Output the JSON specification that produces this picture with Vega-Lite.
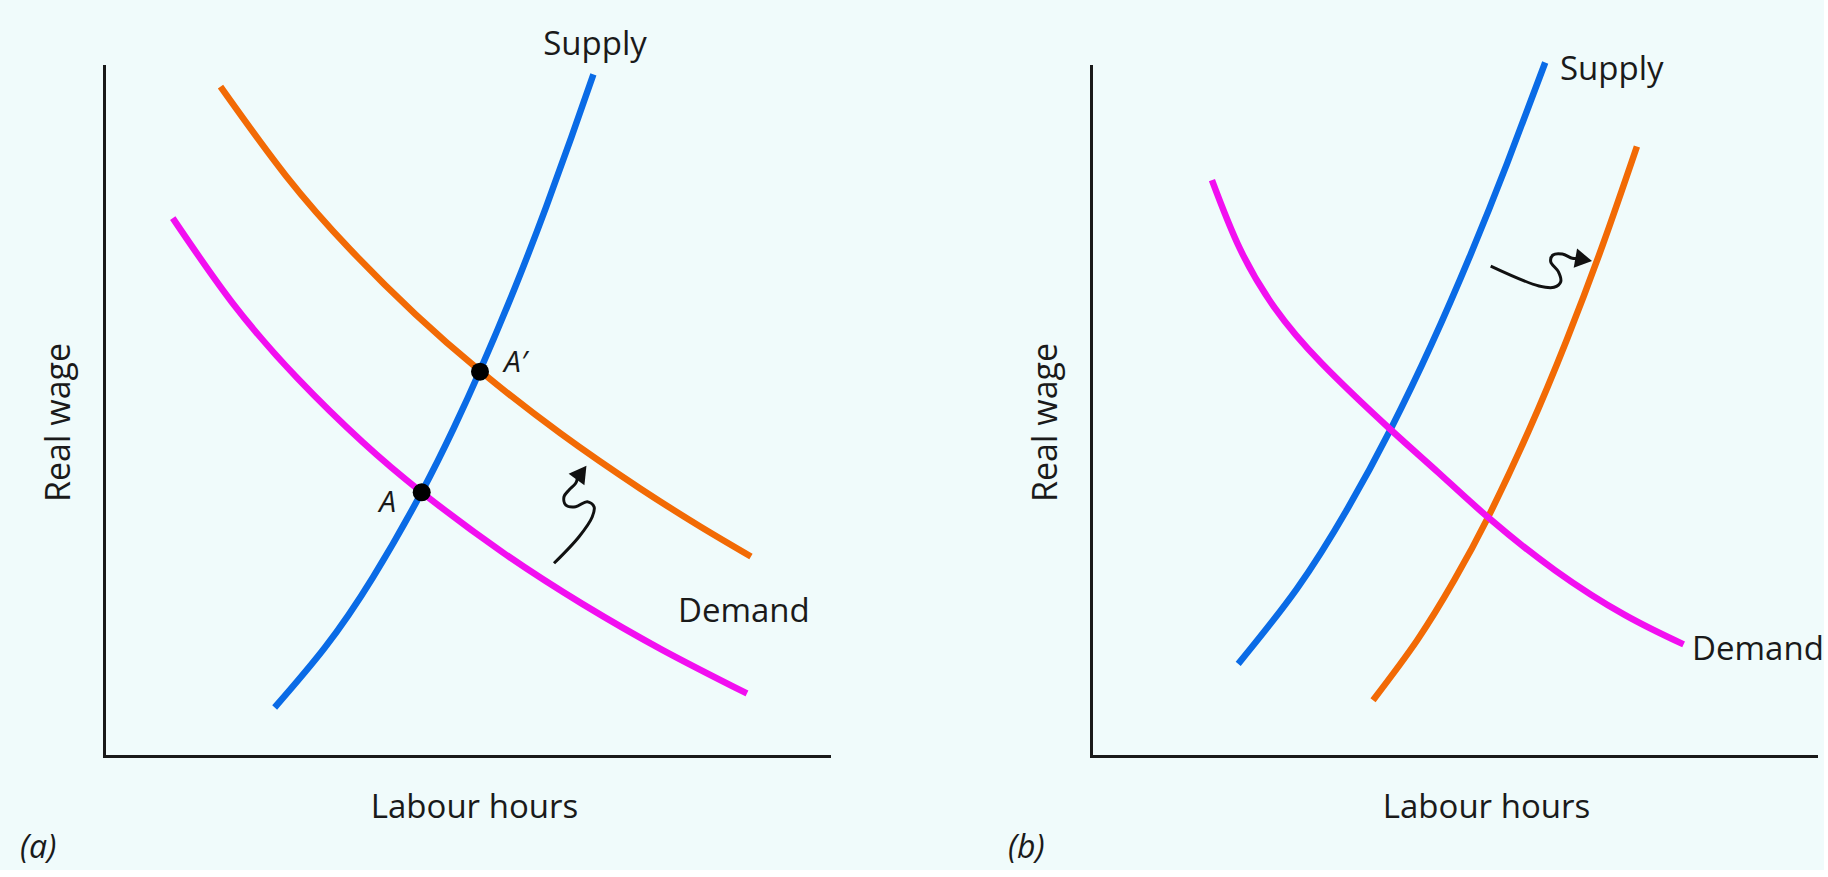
{
  "$schema": "https://vega.github.io/schema/vega-lite/v6.json",
  "background": "#f0fbfb",
  "padding": {"left": 20, "top": 29, "right": 0, "bottom": 6},
  "bounds": "flush",
  "spacing": 262,
  "config": {
    "view": {"stroke": null},
    "font": "Open Sans",
    "axis": {"ticks": false, "labels": false, "grid": false, "domainColor": "#1a1a1a", "domainWidth": 3, "domainCap": "square", "titleFont": "Open Sans", "titleFontWeight": "normal", "titleColor": "#1a1a1a"},
    "axisX": {"titlePadding": 35, "titleFontSize": 33},
    "axisY": {"titlePadding": 28, "titleFontSize": 34},
    "title": {"font": "Open Sans", "fontSize": 32, "fontWeight": "normal", "fontStyle": "italic", "color": "#1a1a1a", "orient": "bottom", "anchor": "start", "frame": "group", "offset": 9, "dx": -84}
  },
  "datasets": {
    "curves": [
      {"panel": "a", "curve": "Supply", "order": 1, "x": 23.54, "y": 7.03},
      {"panel": "a", "curve": "Supply", "order": 2, "x": 30.47, "y": 15.72},
      {"panel": "a", "curve": "Supply", "order": 3, "x": 37.08, "y": 25.87},
      {"panel": "a", "curve": "Supply", "order": 4, "x": 43.81, "y": 38.23},
      {"panel": "a", "curve": "Supply", "order": 5, "x": 48.28, "y": 47.61},
      {"panel": "a", "curve": "Supply", "order": 6, "x": 51.85, "y": 55.83},
      {"panel": "a", "curve": "Supply", "order": 7, "x": 56.69, "y": 67.9},
      {"panel": "a", "curve": "Supply", "order": 8, "x": 60.95, "y": 79.49},
      {"panel": "a", "curve": "Supply", "order": 9, "x": 64.46, "y": 89.64},
      {"panel": "a", "curve": "Supply", "order": 10, "x": 67.5, "y": 98.78},
      {"panel": "a", "curve": "Shifted", "order": 1, "x": 16.07, "y": 97.0},
      {"panel": "a", "curve": "Shifted", "order": 2, "x": 25.03, "y": 84.17},
      {"panel": "a", "curve": "Shifted", "order": 3, "x": 34.0, "y": 73.36},
      {"panel": "a", "curve": "Shifted", "order": 4, "x": 42.97, "y": 64.01},
      {"panel": "a", "curve": "Shifted", "order": 5, "x": 51.85, "y": 55.83},
      {"panel": "a", "curve": "Shifted", "order": 6, "x": 62.97, "y": 46.75},
      {"panel": "a", "curve": "Shifted", "order": 7, "x": 74.0, "y": 38.74},
      {"panel": "a", "curve": "Shifted", "order": 8, "x": 82.28, "y": 33.23},
      {"panel": "a", "curve": "Shifted", "order": 9, "x": 89.24, "y": 28.91},
      {"panel": "a", "curve": "Demand", "order": 1, "x": 9.48, "y": 77.96},
      {"panel": "a", "curve": "Demand", "order": 2, "x": 17.75, "y": 65.62},
      {"panel": "a", "curve": "Demand", "order": 3, "x": 26.72, "y": 54.7},
      {"panel": "a", "curve": "Demand", "order": 4, "x": 35.68, "y": 45.48},
      {"panel": "a", "curve": "Demand", "order": 5, "x": 43.81, "y": 38.23},
      {"panel": "a", "curve": "Demand", "order": 6, "x": 54.99, "y": 29.51},
      {"panel": "a", "curve": "Demand", "order": 7, "x": 66.03, "y": 22.01},
      {"panel": "a", "curve": "Demand", "order": 8, "x": 77.06, "y": 15.35},
      {"panel": "a", "curve": "Demand", "order": 9, "x": 88.68, "y": 9.06},
      {"panel": "b", "curve": "Supply", "order": 1, "x": 20.3, "y": 13.35},
      {"panel": "b", "curve": "Supply", "order": 2, "x": 28.39, "y": 24.22},
      {"panel": "b", "curve": "Supply", "order": 3, "x": 35.37, "y": 35.81},
      {"panel": "b", "curve": "Supply", "order": 4, "x": 41.31, "y": 47.32},
      {"panel": "b", "curve": "Supply", "order": 5, "x": 46.99, "y": 59.72},
      {"panel": "b", "curve": "Supply", "order": 6, "x": 52.39, "y": 72.77},
      {"panel": "b", "curve": "Supply", "order": 7, "x": 57.37, "y": 85.81},
      {"panel": "b", "curve": "Supply", "order": 8, "x": 62.65, "y": 100.51},
      {"panel": "b", "curve": "Shifted", "order": 1, "x": 38.9, "y": 8.09},
      {"panel": "b", "curve": "Shifted", "order": 2, "x": 44.99, "y": 16.78},
      {"panel": "b", "curve": "Shifted", "order": 3, "x": 50.1, "y": 25.48},
      {"panel": "b", "curve": "Shifted", "order": 4, "x": 54.76, "y": 34.59},
      {"panel": "b", "curve": "Shifted", "order": 5, "x": 60.41, "y": 47.22},
      {"panel": "b", "curve": "Shifted", "order": 6, "x": 65.6, "y": 60.26},
      {"panel": "b", "curve": "Shifted", "order": 7, "x": 70.57, "y": 74.03},
      {"panel": "b", "curve": "Shifted", "order": 8, "x": 75.3, "y": 88.33},
      {"panel": "b", "curve": "Demand", "order": 1, "x": 16.68, "y": 83.46},
      {"panel": "b", "curve": "Demand", "order": 2, "x": 20.54, "y": 73.52},
      {"panel": "b", "curve": "Demand", "order": 3, "x": 25.37, "y": 64.9},
      {"panel": "b", "curve": "Demand", "order": 4, "x": 31.81, "y": 56.91},
      {"panel": "b", "curve": "Demand", "order": 5, "x": 41.31, "y": 47.32},
      {"panel": "b", "curve": "Demand", "order": 6, "x": 47.92, "y": 41.07},
      {"panel": "b", "curve": "Demand", "order": 7, "x": 54.76, "y": 34.59},
      {"panel": "b", "curve": "Demand", "order": 8, "x": 64.01, "y": 26.91},
      {"panel": "b", "curve": "Demand", "order": 9, "x": 73.68, "y": 20.41},
      {"panel": "b", "curve": "Demand", "order": 10, "x": 81.74, "y": 16.17}
    ],
    "arrows": [
      {"panel": "a", "order": 1, "x": 62.07, "y": 27.93},
      {"panel": "a", "order": 2, "x": 65.52, "y": 31.78},
      {"panel": "a", "order": 3, "x": 67.35, "y": 34.68},
      {"panel": "a", "order": 4, "x": 67.59, "y": 36.13},
      {"panel": "a", "order": 5, "x": 66.66, "y": 36.86},
      {"panel": "a", "order": 6, "x": 65.06, "y": 36.13},
      {"panel": "a", "order": 7, "x": 63.68, "y": 36.38},
      {"panel": "a", "order": 8, "x": 63.45, "y": 37.58},
      {"panel": "a", "order": 9, "x": 64.14, "y": 38.55},
      {"panel": "a", "order": 10, "x": 65.06, "y": 39.52},
      {"panel": "a", "order": 11, "x": 65.31, "y": 40.29},
      {"panel": "b", "order": 1, "x": 55.13, "y": 71.01},
      {"panel": "b", "order": 2, "x": 61.79, "y": 68.12},
      {"panel": "b", "order": 3, "x": 63.86, "y": 67.93},
      {"panel": "b", "order": 4, "x": 64.79, "y": 68.74},
      {"panel": "b", "order": 5, "x": 64.46, "y": 70.19},
      {"panel": "b", "order": 6, "x": 63.41, "y": 71.64},
      {"panel": "b", "order": 7, "x": 63.72, "y": 72.61},
      {"panel": "b", "order": 8, "x": 65.01, "y": 72.75},
      {"panel": "b", "order": 9, "x": 66.39, "y": 72.13},
      {"panel": "b", "order": 10, "x": 67.03, "y": 72.13}
    ],
    "heads": [
      {"panel": "a", "x": 65.86, "y": 41.07},
      {"panel": "b", "x": 67.96, "y": 71.94}
    ],
    "dots": [
      {"panel": "a", "name": "A", "x": 43.82, "y": 38.22},
      {"panel": "a", "name": "A′", "x": 51.86, "y": 55.7}
    ],
    "labels": [
      {"panel": "a", "label": "Supply", "x": 67.72, "y": 101.59},
      {"panel": "a", "label": "Demand", "x": 79.17, "y": 19.42},
      {"panel": "a", "label": "A′", "x": 55.17, "y": 55.65},
      {"panel": "a", "label": "A", "x": 40.28, "y": 35.36},
      {"panel": "b", "label": "Supply", "x": 64.69, "y": 97.97},
      {"panel": "b", "label": "Demand", "x": 82.9, "y": 13.91}
    ]
  },
  "hconcat": [
    {
      "width": 725,
      "height": 690,
      "title": {"text": "(a)"},
      "layer": [
        {
          "data": {"name": "curves"},
          "transform": [{"filter": "datum.panel === 'a'"}],
          "mark": {"type": "line", "strokeWidth": 6.5, "interpolate": "natural"},
          "encoding": {
            "x": {"field": "x", "type": "quantitative", "scale": {"domain": [0, 100], "nice": false, "zero": false}, "axis": {"title": "Labour hours", "titleX": 370}},
            "y": {"field": "y", "type": "quantitative", "scale": {"domain": [0, 100], "nice": false, "zero": false}, "axis": {"title": "Real wage", "titleY": 356}},
            "color": {"field": "curve", "type": "nominal", "scale": {"domain": ["Supply", "Demand", "Shifted"], "range": ["#0a6be6", "#f20ff0", "#f26a05"]}, "legend": null},
            "order": {"field": "order", "type": "quantitative"}
          }
        },
        {
          "data": {"name": "arrows"},
          "transform": [{"filter": "datum.panel === 'a'"}],
          "mark": {"type": "line", "strokeWidth": 3, "color": "#111111", "interpolate": "catmull-rom"},
          "encoding": {
            "x": {"field": "x", "type": "quantitative"},
            "y": {"field": "y", "type": "quantitative"},
            "order": {"field": "order", "type": "quantitative"}
          }
        },
        {
          "data": {"name": "heads"},
          "transform": [{"filter": "datum.panel === 'a'"}],
          "mark": {"type": "point", "shape": "triangle-up", "angle": 36, "size": 380, "filled": true, "opacity": 1, "color": "#111111"},
          "encoding": {
            "x": {"field": "x", "type": "quantitative"},
            "y": {"field": "y", "type": "quantitative"}
          }
        },
        {
          "data": {"name": "dots"},
          "transform": [{"filter": "datum.panel === 'a'"}],
          "mark": {"type": "point", "shape": "circle", "size": 324, "filled": true, "opacity": 1, "color": "#000000"},
          "encoding": {
            "x": {"field": "x", "type": "quantitative"},
            "y": {"field": "y", "type": "quantitative"}
          }
        },
        {
          "data": {"name": "labels"},
          "transform": [{"filter": "datum.panel === 'a' && datum.label === 'Supply'"}],
          "mark": {"type": "text", "align": "center", "baseline": "alphabetic", "fontSize": 33, "color": "#1a1a1a"},
          "encoding": {
            "x": {"field": "x", "type": "quantitative"},
            "y": {"field": "y", "type": "quantitative"},
            "text": {"field": "label"}
          }
        },
        {
          "data": {"name": "labels"},
          "transform": [{"filter": "datum.panel === 'a' && datum.label === 'Demand'"}],
          "mark": {"type": "text", "align": "left", "baseline": "alphabetic", "fontSize": 33, "color": "#1a1a1a"},
          "encoding": {
            "x": {"field": "x", "type": "quantitative"},
            "y": {"field": "y", "type": "quantitative"},
            "text": {"field": "label"}
          }
        },
        {
          "data": {"name": "labels"},
          "transform": [{"filter": "datum.panel === 'a' && datum.label === 'A′'"}],
          "mark": {"type": "text", "align": "left", "baseline": "alphabetic", "fontSize": 30, "fontStyle": "italic", "color": "#1a1a1a"},
          "encoding": {
            "x": {"field": "x", "type": "quantitative"},
            "y": {"field": "y", "type": "quantitative"},
            "text": {"field": "label"}
          }
        },
        {
          "data": {"name": "labels"},
          "transform": [{"filter": "datum.panel === 'a' && datum.label === 'A'"}],
          "mark": {"type": "text", "align": "right", "baseline": "alphabetic", "fontSize": 30, "fontStyle": "italic", "color": "#1a1a1a"},
          "encoding": {
            "x": {"field": "x", "type": "quantitative"},
            "y": {"field": "y", "type": "quantitative"},
            "text": {"field": "label"}
          }
        }
      ]
    },
    {
      "width": 725,
      "height": 690,
      "title": {"text": "(b)", "dx": -83},
      "layer": [
        {
          "data": {"name": "curves"},
          "transform": [{"filter": "datum.panel === 'b'"}],
          "mark": {"type": "line", "strokeWidth": 6.5, "interpolate": "natural"},
          "encoding": {
            "x": {"field": "x", "type": "quantitative", "scale": {"domain": [0, 100], "nice": false, "zero": false}, "axis": {"title": "Labour hours", "titleX": 395}},
            "y": {"field": "y", "type": "quantitative", "scale": {"domain": [0, 100], "nice": false, "zero": false}, "axis": {"title": "Real wage", "titleY": 356}},
            "color": {"field": "curve", "type": "nominal", "scale": {"domain": ["Supply", "Demand", "Shifted"], "range": ["#0a6be6", "#f20ff0", "#f26a05"]}, "legend": null},
            "order": {"field": "order", "type": "quantitative"}
          }
        },
        {
          "data": {"name": "arrows"},
          "transform": [{"filter": "datum.panel === 'b'"}],
          "mark": {"type": "line", "strokeWidth": 3, "color": "#111111", "interpolate": "catmull-rom"},
          "encoding": {
            "x": {"field": "x", "type": "quantitative"},
            "y": {"field": "y", "type": "quantitative"},
            "order": {"field": "order", "type": "quantitative"}
          }
        },
        {
          "data": {"name": "heads"},
          "transform": [{"filter": "datum.panel === 'b'"}],
          "mark": {"type": "point", "shape": "triangle-right", "angle": 10, "size": 380, "filled": true, "opacity": 1, "color": "#111111"},
          "encoding": {
            "x": {"field": "x", "type": "quantitative"},
            "y": {"field": "y", "type": "quantitative"}
          }
        },
        {
          "data": {"name": "labels"},
          "transform": [{"filter": "datum.panel === 'b'"}],
          "mark": {"type": "text", "align": "left", "baseline": "alphabetic", "fontSize": 33, "color": "#1a1a1a"},
          "encoding": {
            "x": {"field": "x", "type": "quantitative"},
            "y": {"field": "y", "type": "quantitative"},
            "text": {"field": "label"}
          }
        }
      ]
    }
  ]
}
